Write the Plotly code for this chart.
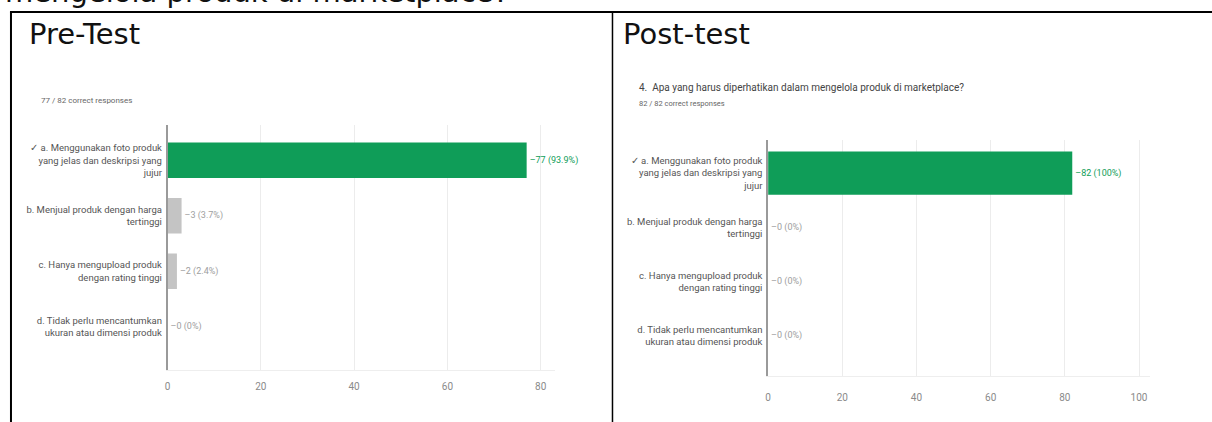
import plotly.graph_objects as go

W, H = 1212, 422

# ---- data ----
categories = [
    "✓ a. Menggunakan foto produk<br>yang jelas dan deskripsi yang<br>jujur",
    "b. Menjual produk dengan harga<br>tertinggi",
    "c. Hanya mengupload produk<br>dengan rating tinggi",
    "d. Tidak perlu mencantumkan<br>ukuran atau dimensi produk",
]
pre_counts = [77, 3, 2, 0]
pre_pct = ["93.9%", "3.7%", "2.4%", "0%"]
post_counts = [82, 0, 0, 0]
post_pct = ["100%", "0%", "0%", "0%"]
pre_ticks = [0, 20, 40, 60, 80]
post_ticks = [0, 20, 40, 60, 80, 100]
question = "mengelola produk di marketplace?"
post_question = "4.  Apa yang harus diperhatikan dalam mengelola produk di marketplace?"
pre_score = "77 / 82 correct responses"
post_score = "82 / 82 correct responses"

GREEN = "#0f9d58"
GRAY_BAR = "#c4c4c4"
bar_colors = [GREEN, GRAY_BAR, GRAY_BAR, GRAY_BAR]
text_colors = [GREEN, "#9e9e9e", "#9e9e9e", "#9e9e9e"]


def px(x):
    return x / W


def py(y):
    return 1 - y / H


fig = go.Figure()
fig.add_trace(go.Bar(
    x=pre_counts, y=categories, orientation="h", customdata=pre_pct,
    marker=dict(color=bar_colors, line=dict(width=0)),
    texttemplate="–%{x} (%{customdata})", textposition="outside",
    textfont=dict(color=text_colors, size=9, family="Roboto"),
    cliponaxis=False, width=0.64, xaxis="x", yaxis="y", hoverinfo="skip",
))
fig.add_trace(go.Bar(
    x=post_counts, y=categories, orientation="h", customdata=post_pct,
    marker=dict(color=bar_colors, line=dict(width=0)),
    texttemplate="–%{x} (%{customdata})", textposition="outside",
    textfont=dict(color=text_colors, size=9, family="Roboto"),
    cliponaxis=False, width=0.8, xaxis="x2", yaxis="y2", hoverinfo="skip",
))

axis_font = dict(family="Roboto", size=9.5, color="#555555")
tick_font = dict(family="Roboto", size=10, color="#8a8a8a")

fig.update_layout(
    width=W, height=H, margin=dict(l=0, r=0, t=0, b=0),
    paper_bgcolor="white", plot_bgcolor="white", showlegend=False,
    xaxis=dict(domain=[px(165), px(553)], range=[0, 83], tickvals=pre_ticks,
               showgrid=True, gridcolor="#ececec", gridwidth=1, zeroline=False,
               showline=True, linecolor="#eeeeee", tickfont=tick_font,
               ticklabelstandoff=7, anchor="y"),
    yaxis=dict(domain=[py(370), py(125)], range=[3.78, -0.636], type="category",
               showgrid=False, showline=True, linecolor="#9a9a9a", linewidth=1.5,
               tickfont=axis_font, ticklabelstandoff=2, anchor="x"),
    xaxis2=dict(domain=[px(767), px(1150)], range=[0, 103], tickvals=post_ticks,
                showgrid=True, gridcolor="#ececec", gridwidth=1, zeroline=False,
                showline=True, linecolor="#eeeeee", tickfont=tick_font,
                ticklabelstandoff=12, anchor="y2"),
    yaxis2=dict(domain=[py(376), py(140)], range=[3.74, -0.61], type="category",
                showgrid=False, showline=True, linecolor="#9a9a9a", linewidth=1.5,
                tickfont=axis_font, ticklabelstandoff=2, anchor="x2"),
)

# table borders
line = dict(color="black", width=2)
fig.add_shape(type="line", xref="paper", yref="paper", x0=px(7), x1=1, y0=py(12), y1=py(12), line=line)
fig.add_shape(type="line", xref="paper", yref="paper", x0=px(8), x1=px(8), y0=py(12), y1=0, line=line)
fig.add_shape(type="line", xref="paper", yref="paper", x0=px(611), x1=px(611), y0=py(12), y1=0,
              line=dict(color="black", width=1.5))

title_font = dict(family="DejaVu Sans", size=29, color="#111111")
fig.add_annotation(text=question, x=px(0), y=py(11), xref="paper", yref="paper",
                   xanchor="left", yanchor="bottom", showarrow=False, font=title_font)
fig.add_annotation(text="Pre-Test", x=px(24), y=py(15), xref="paper", yref="paper",
                   xanchor="left", yanchor="top", showarrow=False, font=title_font)
fig.add_annotation(text="Post-test", x=px(620), y=py(15), xref="paper", yref="paper",
                   xanchor="left", yanchor="top", showarrow=False, font=title_font)

fig.add_annotation(text=pre_score, x=px(36), y=py(101), xref="paper", yref="paper",
                   xanchor="left", yanchor="middle", showarrow=False,
                   font=dict(family="Roboto", size=8, color="#666666"))
fig.add_annotation(text=post_question, x=px(636), y=py(88), xref="paper", yref="paper",
                   xanchor="left", yanchor="middle", showarrow=False,
                   font=dict(family="Roboto", size=10, color="#444444"))
fig.add_annotation(text=post_score, x=px(636), y=py(103), xref="paper", yref="paper",
                   xanchor="left", yanchor="middle", showarrow=False,
                   font=dict(family="Roboto", size=7.5, color="#666666"))

fig.write_html("out.html")
